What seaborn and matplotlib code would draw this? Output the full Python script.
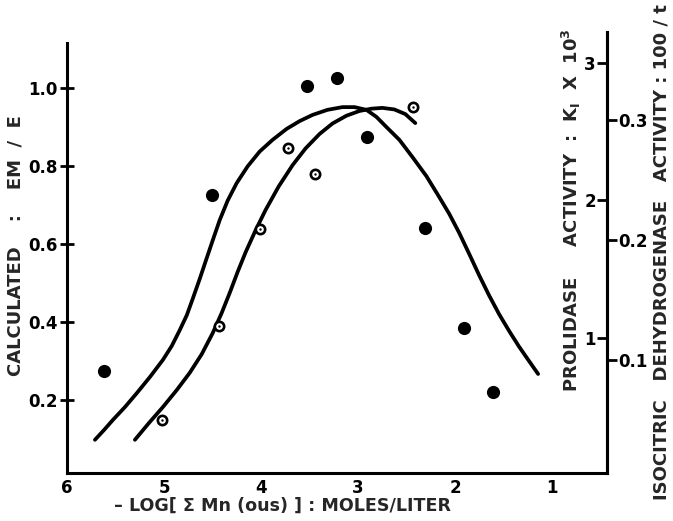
import numpy as np
import pandas as pd
import seaborn as sns
import matplotlib.pyplot as plt

sns.set_style('white')
plt.rcParams['font.family'] = ['DejaVu Sans']
plt.rcParams['font.weight'] = 'bold'
plt.rcParams['mathtext.default'] = 'bf'

# ---- data ----
x_ticks = [6, 5, 4, 3, 2, 1]
x_tick_labels = ['6', '5', '4', '3', '2', '1']
left_ticks = [0.2, 0.4, 0.6, 0.8, 1.0]
left_tick_labels = ['0.2', '0.4', '0.6', '0.8', '1.0']
prol_ticks = [1, 2, 3]
prol_tick_labels = ['1', '2', '3']
iso_ticks = [0.1, 0.2, 0.3]
iso_tick_labels = ['0.1', '0.2', '0.3']

# calculated curves (EM/E)
curve_a_x = [5.712, 5.619, 5.527, 5.403, 5.280, 5.146, 5.012, 4.920, 4.837, 4.765, 4.704,
             4.632, 4.570, 4.498, 4.426, 4.344, 4.251, 4.138, 4.014, 3.881, 3.737, 3.603,
             3.469, 3.315, 3.160, 3.037, 2.914, 2.811, 2.708, 2.574, 2.440, 2.296, 2.163,
             2.060, 1.957, 1.854, 1.751, 1.648, 1.545, 1.442, 1.340, 1.237, 1.144]
curve_a_y = [0.098, 0.123, 0.149, 0.182, 0.218, 0.259, 0.303, 0.339, 0.380, 0.418, 0.460,
             0.511, 0.557, 0.610, 0.662, 0.712, 0.757, 0.800, 0.838, 0.868, 0.896, 0.916,
             0.932, 0.945, 0.952, 0.952, 0.945, 0.927, 0.901, 0.868, 0.824, 0.775, 0.721,
             0.678, 0.629, 0.575, 0.520, 0.468, 0.420, 0.377, 0.337, 0.300, 0.267]
curve_b_x = [5.300, 5.156, 5.012, 4.868, 4.735, 4.611, 4.498, 4.405, 4.323, 4.241, 4.158,
             4.056, 3.953, 3.819, 3.675, 3.541, 3.397, 3.263, 3.119, 2.986, 2.862, 2.749,
             2.626, 2.512, 2.410]
curve_b_y = [0.098, 0.141, 0.182, 0.226, 0.270, 0.318, 0.372, 0.424, 0.475, 0.529, 0.580,
             0.636, 0.688, 0.748, 0.803, 0.846, 0.883, 0.910, 0.930, 0.942, 0.948, 0.950,
             0.946, 0.934, 0.911]

# prolidase activity (K1 x 10^3), filled circles
prol_x = [5.62, 4.51, 3.53, 3.22, 2.91, 2.31, 1.91, 1.61]
prol_k = [0.756, 2.04, 2.83, 2.89, 2.46, 1.80, 1.07, 0.60]

# isocitric dehydrogenase activity (100/t), open circles
iso_x = [5.02, 4.43, 4.01, 3.72, 3.44, 2.43]
iso_v = [0.050, 0.128, 0.209, 0.277, 0.255, 0.311]

fig = plt.figure(figsize=(6.73, 5.21), dpi=100)
ax = fig.add_axes([67/673, 1-473/521, 540/673, 441/521])

for cx, cy in [(curve_a_x, curve_a_y), (curve_b_x, curve_b_y)]:
    sns.lineplot(x=cx, y=cy, ax=ax, color='black', lw=2.7, estimator=None,
                 solid_joinstyle='round', solid_capstyle='round')

ax.set_xlim(6, 0.434)
ax.set_ylim(0.0128, 1.1448)
ax.spines['top'].set_visible(False)
ax.spines['right'].set_visible(False)
ax.spines['left'].set_bounds(0.0128, 1.1165)
for s in ['left', 'bottom']:
    ax.spines[s].set_linewidth(2.2)
    ax.spines[s].set_color('black')
ax.set_xticks(x_ticks)
ax.set_xticklabels(x_tick_labels)
ax.set_yticks(left_ticks)
ax.set_yticklabels(left_tick_labels)
ax.tick_params(axis='x', direction='in', length=8, width=2, labelsize=12, pad=4, colors='black')
ax.tick_params(axis='y', direction='inout', length=10, width=2, labelsize=12, pad=2, colors='black')
ax.set_xlabel('– LOG[ Σ Mn (ous) ] : MOLES/LITER', fontsize=12.6, fontweight='bold')
ax.xaxis.set_label_coords(0.40, -0.055)
ax.set_ylabel('CALCULATED    :    EM  /  E', fontsize=13, fontweight='bold')
ax.yaxis.set_label_coords(-0.078, 0.515)

# prolidase axis (ticks and labels on inner side of right spine)
ax2 = ax.twinx()
sns.scatterplot(x=prol_x, y=prol_k, ax=ax2, color='black', edgecolor='black', s=90, linewidth=0, zorder=5)
ax2.set_ylim(0.0145, 3.222)
ax2.yaxis.set_ticks_position('left')
ax2.yaxis.set_label_position('left')
ax2.spines['left'].set_position(('axes', 1.0))
for s in ['top', 'bottom', 'right']:
    ax2.spines[s].set_visible(False)
ax2.spines['left'].set_visible(True)
ax2.spines['left'].set_linewidth(2.2)
ax2.spines['left'].set_color('black')
ax2.set_yticks(prol_ticks)
ax2.set_yticklabels(prol_tick_labels)
ax2.tick_params(axis='y', direction='out', length=7, width=2, labelsize=12, pad=1, colors='black')
ax2.set_ylabel(r'PROLIDASE     ACTIVITY  :  K$_{I}$  X  10$^{3}$', fontsize=13, fontweight='bold')
ax2.yaxis.set_label_coords(0.956, 0.596)

# isocitric dehydrogenase axis (outer right)
ax3 = ax.twinx()
sns.scatterplot(x=iso_x, y=iso_v, ax=ax3, marker='o', facecolor='white', edgecolor='black',
                s=45, linewidth=1.9, zorder=5)
sns.scatterplot(x=iso_x, y=iso_v, ax=ax3, marker='o', color='black', s=3, linewidth=0, zorder=6)
ax3.set_ylim(0.00583, 0.3733)
for s in ['top', 'bottom', 'left']:
    ax3.spines[s].set_visible(False)
ax3.spines['right'].set_linewidth(2.2)
ax3.spines['right'].set_color('black')
ax3.set_yticks(iso_ticks)
ax3.set_yticklabels(iso_tick_labels)
ax3.tick_params(axis='y', direction='out', length=7, width=2, labelsize=12, pad=1, colors='black')
ax3.set_ylabel('ISOCITRIC   DEHYDROGENASE   ACTIVITY : 100 / t', fontsize=13, fontweight='bold')
ax3.yaxis.set_label_coords(1.085, 0.5)

fig.savefig('out.png', dpi=100)
